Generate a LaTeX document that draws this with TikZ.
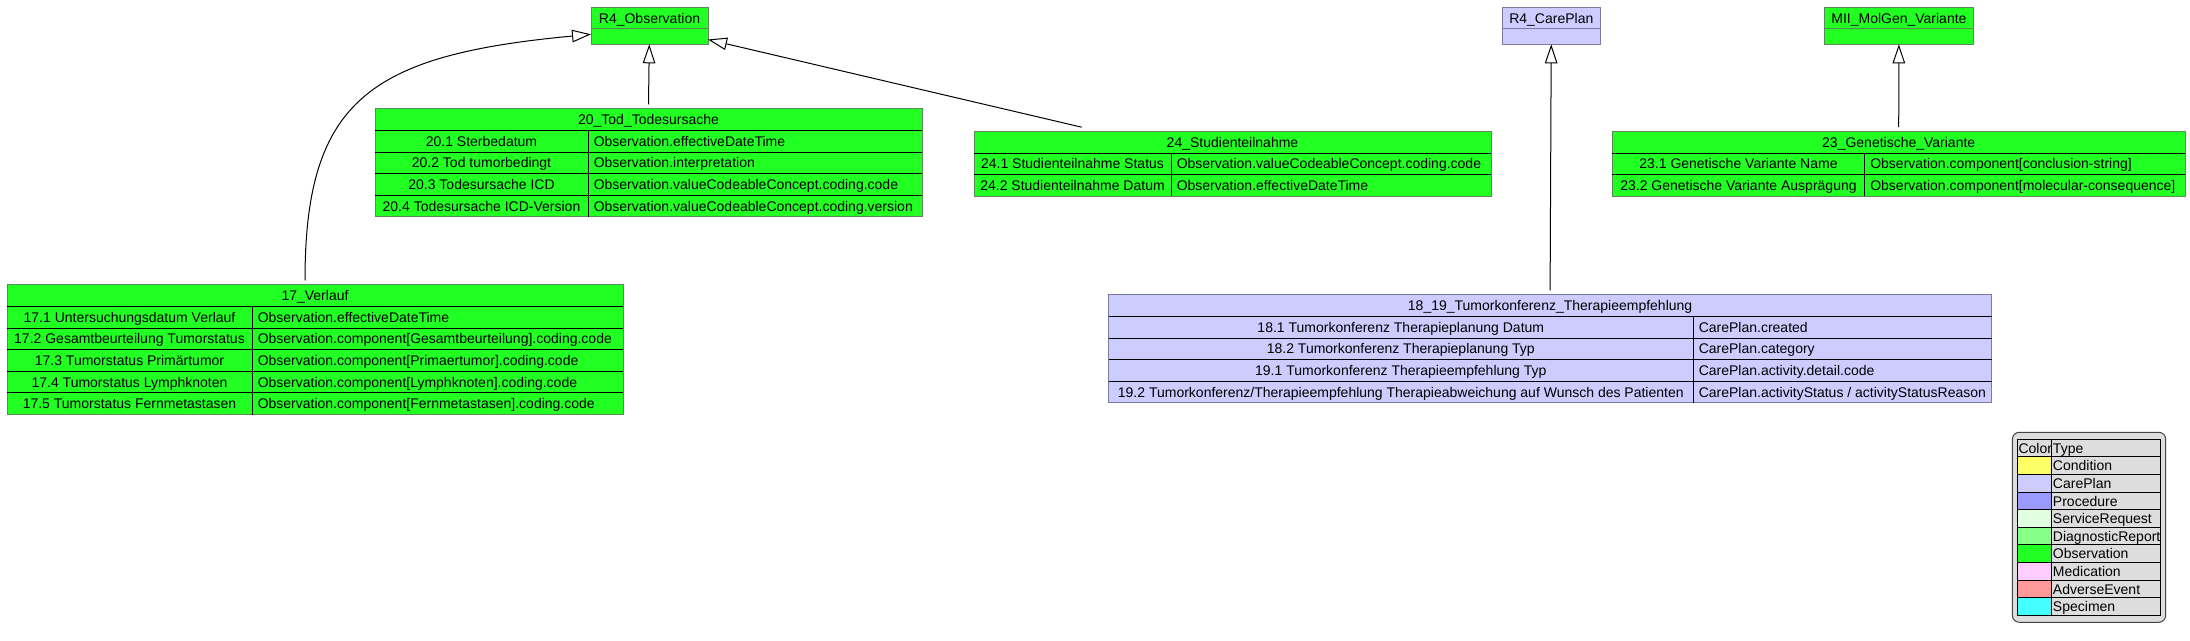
\documentclass[tikz,border=0pt]{standalone}
\usepackage{fontspec}
\setmainfont{Liberation Sans}
\usetikzlibrary{arrows.meta,calc}
\definecolor{obsgreen}{HTML}{22FF22}
\definecolor{cplav}{HTML}{CCCCFF}
\definecolor{greenborder}{HTML}{5A8A5A}
\definecolor{lavborder}{HTML}{7A7AA0}
\definecolor{leggray}{HTML}{DDDDDD}
\definecolor{legborder}{HTML}{444444}
\definecolor{cCondition}{HTML}{FFFF66}
\definecolor{cCarePlan}{HTML}{CCCCFF}
\definecolor{cProcedure}{HTML}{9999FF}
\definecolor{cServiceRequest}{HTML}{E0FFE0}
\definecolor{cDiagnosticReport}{HTML}{88FF88}
\definecolor{cObservation}{HTML}{22FF22}
\definecolor{cMedication}{HTML}{FFCCFF}
\definecolor{cAdverseEvent}{HTML}{FF9999}
\definecolor{cSpecimen}{HTML}{44FFFF}

% #1 table node, #2 row index, #3 split offset (px), #4 left text, #5 right text
\newcommand\umlrow[5]{%
  \coordinate (#1-r#2) at ($(#1.north west)+(0,21.5+#2*21.6-21.6)$);
  \draw[gridline] (#1-r#2) -- (#1-r#2 -| #1.east);
  \draw[gridline] ($(#1-r#2)+(#3,0)$) -- ++(0,21.6);
  \node[celltext] (#1-#2a) at ($(#1-r#2)+(#3/2,15.8)$) {#4};
  \node[celltext, anchor=base west] (#1-#2b) at ($(#1-r#2)+(#3+5.5,15.8)$) {#5};
}

\begin{document}
\begin{tikzpicture}[x=0.75pt,y=-0.75pt,
  font=\fontsize{10.5}{12}\selectfont,
  greenbox/.style={fill=obsgreen, draw=greenborder, line width=0.75pt, inner sep=0, outer sep=0, anchor=north west},
  lavbox/.style={fill=cplav, draw=lavborder, line width=0.75pt, inner sep=0, outer sep=0, anchor=north west},
  gridline/.style={draw=black, line width=0.75pt},
  celltext/.style={inner sep=0, anchor=base},
  inh/.style={line width=0.75pt, -{Triangle[open, length=14.25pt, width=9.4pt, fill=white]}},
]
\useasboundingbox (0,0) rectangle (2190,641);

% ---------- class boxes ----------
\node[greenbox, minimum width=117*0.75pt, minimum height=37*0.75pt] (obs) at (591,7.3) {};
\draw[greenborder, line width=0.75pt] ($(obs.north west)+(0,21.7)$) -- ++(117,0);
\node[celltext] (obs-t) at ($(obs.north)+(0,16)$) {R4\_Observation};

\node[lavbox, minimum width=98*0.75pt, minimum height=37*0.75pt] (careplan) at (1502.3,7.3) {};
\draw[lavborder, line width=0.75pt] ($(careplan.north west)+(0,21.7)$) -- ++(98,0);
\node[celltext] (careplan-t) at ($(careplan.north)+(0,16)$) {R4\_CarePlan};

\node[greenbox, minimum width=149.4*0.75pt, minimum height=37*0.75pt] (mii) at (1824.2,7.3) {};
\draw[greenborder, line width=0.75pt] ($(mii.north west)+(0,21.7)$) -- ++(149.4,0);
\node[celltext] (mii-t) at ($(mii.north)+(0,16)$) {MII\_MolGen\_Variante};

% ---------- 20_Tod_Todesursache ----------
\node[greenbox, minimum width=547*0.75pt, minimum height=107.9*0.75pt] (t20) at (375,109) {};
\node[celltext] (t20-h) at ($(t20.north)+(0,15.75)$) {20\_Tod\_Todesursache};
\umlrow{t20}{1}{213}{20.1 Sterbedatum}{Observation.effectiveDateTime}
\umlrow{t20}{2}{213}{20.2 Tod tumorbedingt}{Observation.interpretation}
\umlrow{t20}{3}{213}{20.3 Todesursache ICD}{Observation.valueCodeableConcept.coding.code}
\umlrow{t20}{4}{213}{20.4 Todesursache ICD-Version}{Observation.valueCodeableConcept.coding.version}

% ---------- 24_Studienteilnahme ----------
\node[greenbox, minimum width=517*0.75pt, minimum height=64.7*0.75pt] (t24) at (974,131.7) {};
\node[celltext] (t24-h) at ($(t24.north)+(0,15.75)$) {24\_Studienteilnahme};
\umlrow{t24}{1}{197}{24.1 Studienteilnahme Status}{Observation.valueCodeableConcept.coding.code}
\umlrow{t24}{2}{197}{24.2 Studienteilnahme Datum}{Observation.effectiveDateTime}

% ---------- 23_Genetische_Variante ----------
\node[greenbox, minimum width=572.6*0.75pt, minimum height=64.7*0.75pt] (t23) at (1612.4,131.7) {};
\node[celltext] (t23-h) at ($(t23.north)+(0,15.75)$) {23\_Genetische\_Variante};
\umlrow{t23}{1}{252.1}{23.1 Genetische Variante Name}{Observation.component[conclusion-string]}
\umlrow{t23}{2}{252.1}{23.2 Genetische Variante Ausprägung}{Observation.component[molecular-consequence]}

% ---------- 17_Verlauf ----------
\node[greenbox, minimum width=616*0.75pt, minimum height=129.5*0.75pt] (t17) at (7,285) {};
\node[celltext] (t17-h) at ($(t17.north)+(0,15.75)$) {17\_Verlauf};
\umlrow{t17}{1}{245}{17.1 Untersuchungsdatum Verlauf}{Observation.effectiveDateTime}
\umlrow{t17}{2}{245}{17.2 Gesamtbeurteilung Tumorstatus}{Observation.component[Gesamtbeurteilung].coding.code}
\umlrow{t17}{3}{245}{17.3 Tumorstatus Primärtumor}{Observation.component[Primaertumor].coding.code}
\umlrow{t17}{4}{245}{17.4 Tumorstatus Lymphknoten}{Observation.component[Lymphknoten].coding.code}
\umlrow{t17}{5}{245}{17.5 Tumorstatus Fernmetastasen}{Observation.component[Fernmetastasen].coding.code}

% ---------- 18_19_Tumorkonferenz_Therapieempfehlung ----------
\node[lavbox, minimum width=883*0.75pt, minimum height=107.9*0.75pt] (t1819) at (1108.6,295) {};
\node[celltext] (t1819-h) at ($(t1819.north)+(0,15.75)$) {18\_19\_Tumorkonferenz\_Therapieempfehlung};
\umlrow{t1819}{1}{584.4}{18.1 Tumorkonferenz Therapieplanung Datum}{CarePlan.created}
\umlrow{t1819}{2}{584.4}{18.2 Tumorkonferenz Therapieplanung Typ}{CarePlan.category}
\umlrow{t1819}{3}{584.4}{19.1 Tumorkonferenz Therapieempfehlung Typ}{CarePlan.activity.detail.code}
\umlrow{t1819}{4}{584.4}{19.2 Tumorkonferenz/Therapieempfehlung Therapieabweichung auf Wunsch des Patienten}{CarePlan.activityStatus / activityStatusReason}

% ---------- connectors ----------
\draw[inh] ([yshift=3.4pt]t20.north) -- (obs);
\draw[inh] ($(t24.north west)+(107.7,-4.5)$) -- (obs);
\draw[inh] ($(t17.north west)+(298,-4.5)$) .. controls ($(t17.north west)+(298,-185)$) and ($(obs.north west)+(-221,47.7)$) .. ($(obs.north west)+(0,27)$);
\draw[inh] ([yshift=3.4pt]t23.north) -- (mii);
\draw[inh] ([yshift=3.4pt]t1819.north) -- (careplan);

% ---------- legend ----------
\node[draw=legborder, fill=leggray, line width=0.75pt, rounded corners=5.25pt, minimum width=153.4*0.75pt, minimum height=190*0.75pt, inner sep=0, outer sep=0, anchor=north west] (legend) at (2012.3,432.3) {};
\node[fill=leggray, minimum width=143*0.75pt, minimum height=176*0.75pt, inner sep=0, outer sep=0, anchor=north west] (legtab) at (2017.3,439.3) {};
\node[celltext, anchor=base west] (leg-color) at ($(legtab.north west)+(1,14)$) {Color};
\node[celltext, anchor=base west] (leg-type) at ($(legtab.north west)+(35.4,14)$) {Type};
\foreach \c/\t [count=\i] in {cCondition/Condition, cCarePlan/CarePlan, cProcedure/Procedure, cServiceRequest/ServiceRequest, cDiagnosticReport/DiagnosticReport, cObservation/Observation, cMedication/Medication, cAdverseEvent/AdverseEvent, cSpecimen/Specimen} {
  \fill[fill=\c] ($(legtab.north west)+(0,17.6*\i)$) rectangle ++(33.7,17.6);
  \draw[gridline] ($(legtab.north west)+(0,17.6*\i)$) -- ++(143,0);
  \node[celltext, anchor=base west] (leg\i) at ($(legtab.north west)+(35.4,17.6*\i+14)$) {\t};
}
\draw[gridline] ($(legtab.north west)+(33.7,0)$) -- ++(0,176);
\draw[gridline] (legtab.north west) rectangle (legtab.south east);
\end{tikzpicture}
\end{document}
